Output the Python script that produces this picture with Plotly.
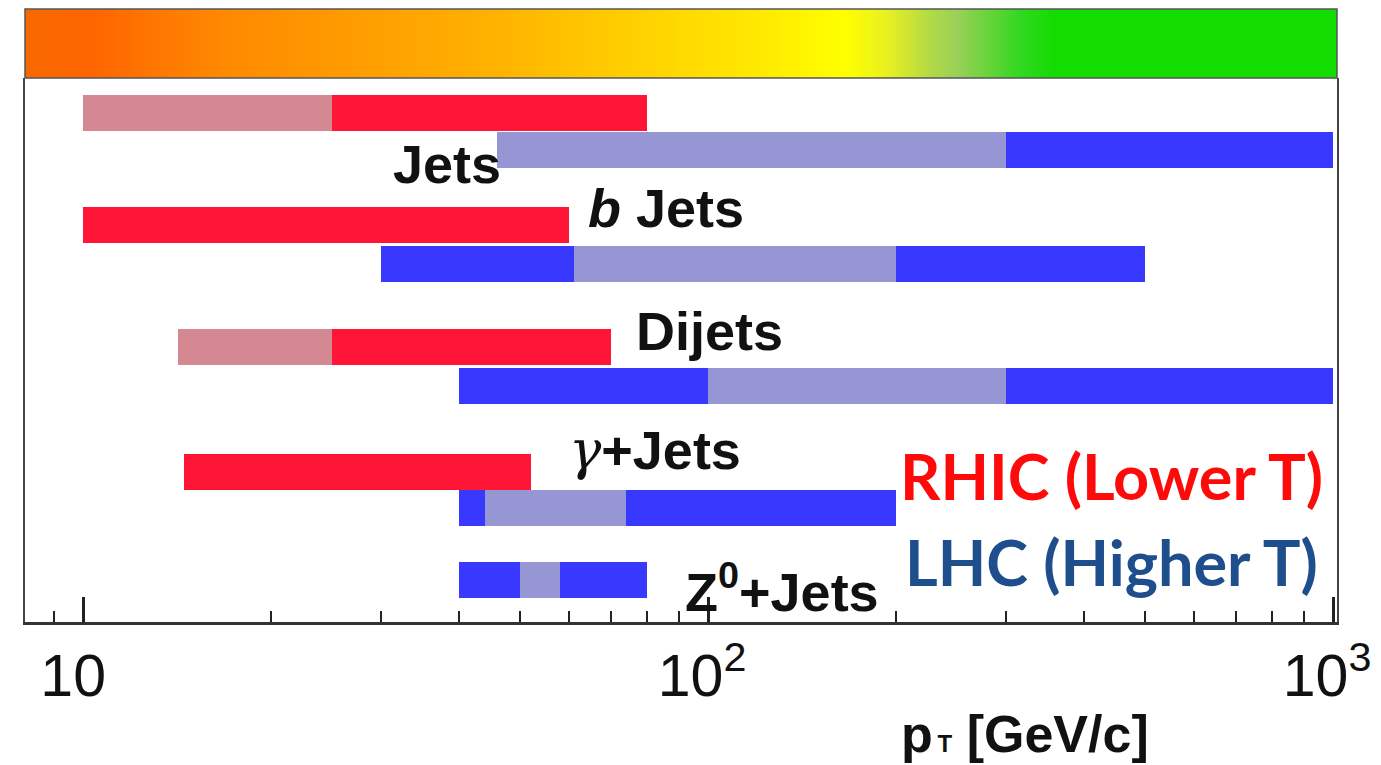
import plotly.graph_objects as go

# ---------------- data (pT ranges in GeV/c) ----------------
processes = ["Jets", "b Jets", "Dijets", "γ+Jets", "Z0+Jets"]

jets_rhic_pt = [10, 25, 80]
jets_rhic_tone = ["light", "full"]
jets_lhc_pt = [46, 300, 1000]
jets_lhc_tone = ["light", "full"]

bjets_rhic_pt = [10, 60]
bjets_rhic_tone = ["full"]
bjets_lhc_pt = [30, 61, 200, 500]
bjets_lhc_tone = ["full", "light", "full"]

dijets_rhic_pt = [14.2, 25, 70]
dijets_rhic_tone = ["light", "full"]
dijets_lhc_pt = [40, 100, 300, 1000]
dijets_lhc_tone = ["full", "light", "full"]

gjets_rhic_pt = [14.5, 52]
gjets_rhic_tone = ["full"]
gjets_lhc_pt = [40, 44, 74, 200]
gjets_lhc_tone = ["full", "light", "full"]

zjets_lhc_pt = [40, 50, 58, 80]
zjets_lhc_tone = ["full", "light", "full"]

tick_values = [10, 100, 1000]
tick_labels = ["10\u2004", "10<sup>2</sup>\u2009", "10<sup>3</sup>\u2009"]
minor_tick_values = [9, 20, 30, 40, 50, 60, 70, 80, 90,
                     200, 300, 400, 500, 600, 700, 800, 900]

# ---------------- styles / layout ----------------
COLORS = {
    ("RHIC", "full"): "#FF1535",
    ("RHIC", "light"): "#D38892",
    ("LHC", "full"): "#3838FF",
    ("LHC", "light"): "#9696D4",
}
BAR_THICK = 36
# row centres (plot units = px below top of the frame)
ROW_Y = {
    ("Jets", "RHIC"): 35, ("Jets", "LHC"): 71.5,
    ("b Jets", "RHIC"): 147, ("b Jets", "LHC"): 185.5,
    ("Dijets", "RHIC"): 268.5, ("Dijets", "LHC"): 308,
    ("γ+Jets", "RHIC"): 393.5, ("γ+Jets", "LHC"): 429.5,
    ("Z0+Jets", "LHC"): 502,
}

rows = [
    ("Jets", "RHIC", jets_rhic_pt, jets_rhic_tone),
    ("Jets", "LHC", jets_lhc_pt, jets_lhc_tone),
    ("b Jets", "RHIC", bjets_rhic_pt, bjets_rhic_tone),
    ("b Jets", "LHC", bjets_lhc_pt, bjets_lhc_tone),
    ("Dijets", "RHIC", dijets_rhic_pt, dijets_rhic_tone),
    ("Dijets", "LHC", dijets_lhc_pt, dijets_lhc_tone),
    ("γ+Jets", "RHIC", gjets_rhic_pt, gjets_rhic_tone),
    ("γ+Jets", "LHC", gjets_lhc_pt, gjets_lhc_tone),
    ("Z0+Jets", "LHC", zjets_lhc_pt, zjets_lhc_tone),
]

fig = go.Figure()

for proc, machine, edges, tones in rows:
    for i, tone in enumerate(tones):
        lo, hi = edges[i], edges[i + 1]
        fig.add_trace(go.Bar(
            orientation="h",
            y=[ROW_Y[(proc, machine)]],
            base=[lo],
            x=[hi - lo],
            width=BAR_THICK,
            marker=dict(color=COLORS[(machine, tone)], line=dict(width=0)),
            showlegend=False,
            hoverinfo="skip",
            xaxis="x", yaxis="y",
        ))

# temperature colour band (decoration)
band_pos = [0.0, 0.054, 0.148, 0.248, 0.349, 0.449, 0.550, 0.624,
            0.657, 0.691, 0.711, 0.732, 0.759, 0.786, 1.0]
band_col = ["#F86800", "#FF6600", "#FF8800", "#FF9C00", "#FFB000", "#FFCC00",
            "#FFE600", "#FFFF00", "#E8F020", "#B0D848", "#98D058", "#6CD43C",
            "#30D820", "#12DC00", "#12DC00"]
fig.add_trace(go.Heatmap(
    x=band_pos, y=[0], z=[band_pos],
    colorscale=[[p, c] for p, c in zip(band_pos, band_col)],
    zmin=0, zmax=1, zsmooth="best", showscale=False, hoverinfo="skip",
    xaxis="x2", yaxis="y2",
))

OFF = 8                      # default page body margin
W, H = 1381 - OFF, 765 - OFF
L, R, T, B = 17, 44, 1, 143
plot_w = W - L - R
plot_h = H - T - B
split = 544 / plot_h


def px_x(px):
    return (px - OFF - L) / plot_w


def px_y(py):
    return 1 - (py - OFF - T) / plot_h


fig.update_layout(
    width=W, height=H,
    margin=dict(l=L, r=R, t=T, b=B, autoexpand=False),
    paper_bgcolor="white", plot_bgcolor="white",
    barmode="overlay", bargap=0,
    showlegend=False,
    xaxis=dict(
        type="log", range=[0.9072, 3.0064], automargin=False,
        tickvals=tick_values, ticktext=tick_labels, ticklabeloverflow="allow",
        ticks="inside", ticklen=25, tickwidth=2.5, tickcolor="#222",
        showline=True, linewidth=3, linecolor="#333", mirror=False,
        showgrid=False, zeroline=False,
        tickfont=dict(family="Liberation Sans, Arial", size=59, color="#111"),
        minor=dict(tickvals=minor_tick_values, ticks="inside", ticklen=11,
                   tickwidth=2, tickcolor="#222", showgrid=False),
        anchor="y", domain=[0, 1],
    ),
    yaxis=dict(
        range=[544, 0], domain=[0, split], automargin=False,
        showline=True, mirror=True, linewidth=2, linecolor="#444",
        showticklabels=False, ticks="", showgrid=False, zeroline=False,
        anchor="x",
    ),
    xaxis2=dict(domain=[0, 1], range=[0, 1], visible=False, anchor="y2", automargin=False),
    yaxis2=dict(domain=[split, 1], range=[-0.5, 0.5], visible=False, anchor="x2", automargin=False),
)

fig.add_shape(type="rect", xref="x2 domain", yref="y2 domain",
              x0=0, x1=1, y0=0, y1=1, line=dict(color="#555", width=1.5))

LABEL_FONT = dict(family="Liberation Sans, Arial", size=54, color="#111")
labels = [
    ("<b>Jets</b>", 447, 164),
    ("<b><i>b</i> Jets</b>", 666, 208),
    ("<b>Dijets</b>", 709, 331),
    ("<span style='font-family:DejaVu Serif;font-style:italic'>γ</span><b>+Jets</b>", 655, 450),
    ("<b>Z<sup>0</sup>+Jets</b>", 782, 588),
]
for txt, px, py in labels:
    fig.add_annotation(
        text=txt, xref="paper", yref="paper", x=px_x(px), y=px_y(py),
        xanchor="center", yanchor="middle", showarrow=False, font=LABEL_FONT,
    )

fig.add_annotation(text="<b>RHIC (Lower T)</b>", xref="paper", yref="paper",
                   x=px_x(1111), y=px_y(475.5),
                   xanchor="center", yanchor="middle", showarrow=False,
                   font=dict(family="Lato", size=63, color="#FF0A0A"))
fig.add_annotation(text="<b>LHC (Higher T)</b>", xref="paper", yref="paper",
                   x=px_x(1111), y=px_y(561.5),
                   xanchor="center", yanchor="middle", showarrow=False,
                   font=dict(family="Lato", size=63, color="#1F4E8C"))

fig.add_annotation(text="<b>p<span style='font-size:24px'>\u2009T</span> [GeV/c]</b>",
                   xref="paper", yref="paper", x=px_x(1025), y=px_y(734),
                   xanchor="center", yanchor="middle", showarrow=False,
                   font=dict(family="Liberation Sans, Arial", size=52, color="#111"))

fig.write_html("out.html")
